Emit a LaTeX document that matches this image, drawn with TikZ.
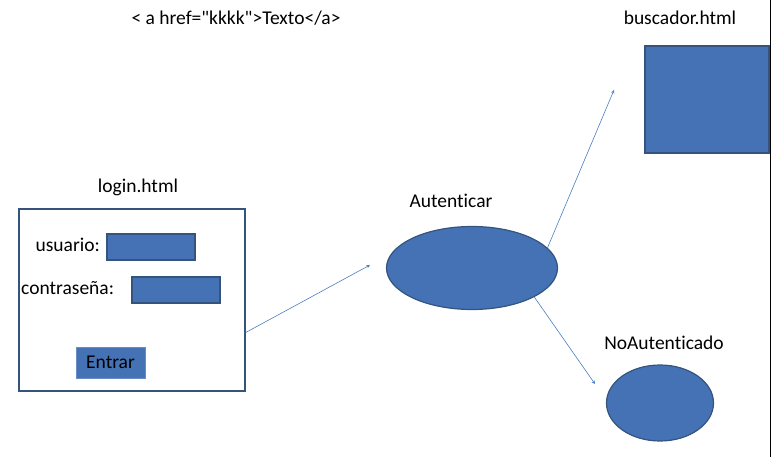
\documentclass[tikz,border=0pt]{standalone}
\usepackage{fontspec}
\setmainfont{Carlito}[Ligatures={TeXOff,CommonOff}]
\usetikzlibrary{shapes.geometric}

\definecolor{boxblue}{RGB}{68,114,180}
\definecolor{edgeblue}{RGB}{52,84,126}
\definecolor{linkblue}{RGB}{74,126,190}

\tikzset{
    label text/.style={inner sep=0pt, font=\fontsize{19.5}{23}\selectfont},
    field/.style={draw=edgeblue, fill=boxblue, line width=1.2pt, inner sep=0pt},
    page oval/.style={ellipse, draw=edgeblue, fill=boxblue, line width=1.2pt, inner sep=0pt},
    link/.style={draw=linkblue, line width=0.6pt, -stealth}
}

\begin{document}
\begin{tikzpicture}[x=1pt, y=-1pt]
            \useasboundingbox (0, 0) rectangle (771, 457);

            % titles
            \node[label text] (ahref) at (236, 18) {< a href="kkkk">Texto</a>};
            \node[label text] (buscadorlbl) at (680, 18) {buscador.html};
            \node[label text] (loginlbl) at (138, 187) {login.html};
            \node[label text] (autlbl) at (451, 201) {Autenticar};
            \node[label text] (noautlbl) at (664, 343) {NoAutenticado};

            % login page
            \node[draw=edgeblue, line width=1.2pt, minimum width=226pt, minimum height=182pt, inner sep=0pt] (login) at (132, 300) {};
            \node[label text, anchor=east] (usuariolbl) at (100, 245) {usuario:};
            \node[field, minimum width=88pt, minimum height=26pt] (usuario) at (151, 247) {};
            \node[label text, anchor=west] (passlbl) at (21, 288) {contraseña:};
            \node[field, minimum width=88pt, minimum height=26pt] (pass) at (176, 290) {};
            \node[label text, fill=boxblue, draw=boxblue!80, minimum width=69pt, minimum height=31pt] (entrar) at (110.5, 362.5) {Entrar};

            % buscador page
            \node[field, minimum width=124pt, minimum height=107pt] (buscador) at (707, 99.5) {};

            % ovals
            \node[page oval, minimum width=171pt, minimum height=83pt] (aut) at (472, 268) {};
            \node[page oval, minimum width=107pt, minimum height=76pt] (noaut) at (660, 403) {};

            \draw[black, line width=1pt] (770, 0) -- (770, 457);

            % links
            \coordinate (toaut) at (370, 265);
            \coordinate (tobusc) at (614, 90);
            \coordinate (tonoaut) at (595, 384);
            \draw[link] (login.-16) -- (toaut);
            \draw[link] (aut.15) -- (tobusc);
            \draw[link] (aut.-25) -- (tonoaut);
\end{tikzpicture}
\end{document}
